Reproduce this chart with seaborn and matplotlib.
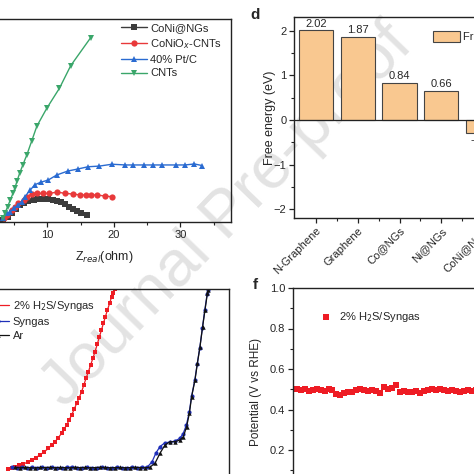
import numpy as np
import pandas as pd
import seaborn as sns
import matplotlib.pyplot as plt
from matplotlib.patches import Patch
from matplotlib.ticker import MultipleLocator

# ---- panel c: Nyquist plots (Z_real, -Z_imag in ohm) ----
coni_x = [3.35, 4.0, 4.6, 5.3, 5.9, 6.5, 7.1, 7.9, 8.6, 9.4, 10.1, 10.8, 11.4, 12.0, 12.6, 13.3, 13.9, 14.5, 15.1, 15.9]
coni_y = [0.3, 0.8, 1.3, 1.9, 2.6, 2.9, 3.2, 3.3, 3.4, 3.4, 3.4, 3.3, 3.2, 3.0, 2.7, 2.3, 2.0, 1.7, 1.4, 1.05]
conio_x = [3.4, 3.9, 4.6, 5.1, 5.6, 6.4, 6.9, 7.6, 8.4, 9.3, 10.3, 11.5, 12.6, 13.9, 14.9, 15.8, 16.6, 17.5, 18.6, 19.7]
conio_y = [0.56, 1.05, 1.8, 2.3, 2.8, 3.3, 3.8, 4.2, 4.3, 4.3, 4.3, 4.5, 4.3, 4.2, 4.06, 4.06, 4.06, 4.06, 3.9, 3.8]
ptc_x = [3.3, 3.9, 4.4, 4.96, 5.6, 6.1, 6.6, 7.4, 8.1, 8.98, 10.1, 11.4, 13.1, 14.6, 16.1, 17.8, 19.7,
         21.7, 22.9, 24.5, 25.8, 27.2, 29.3, 30.7, 32.1, 33.3]
ptc_y = [0.56, 1.3, 1.55, 2.06, 2.56, 3.05, 3.8, 4.8, 5.6, 5.97, 6.3, 7.07, 7.67, 7.97, 8.3, 8.4, 8.68,
         8.57, 8.57, 8.57, 8.57, 8.57, 8.57, 8.57, 8.72, 8.47]
cnt_x = [3.3, 3.6, 4.0, 4.4, 4.8, 5.1, 5.4, 5.8, 6.3, 6.9, 7.6, 8.4, 9.9, 11.8, 13.5, 16.5]
cnt_y = [0.6, 1.3, 2.3, 3.3, 4.3, 5.1, 6.1, 7.3, 8.6, 10.1, 12.1, 14.4, 17.1, 20.1, 23.5, 27.7]

# ---- panel d: free energy ----
catalysts = ['N-Graphene', 'Graphene', 'Co@NGs', 'Ni@NGs', 'CoNi@NGs']
free_energy = [2.02, 1.87, 0.84, 0.66, -0.29]

# ---- panel e: polarization curves ----
h2s_x = [0.042, 0.058, 0.075, 0.096, 0.117, 0.138, 0.158, 0.179, 0.2, 0.221, 0.242, 0.258, 0.275, 0.292,
         0.308, 0.321, 0.333, 0.346, 0.358, 0.371, 0.383, 0.396, 0.408, 0.419, 0.43, 0.442, 0.453, 0.464,
         0.475, 0.486, 0.497, 0.507, 0.517, 0.527, 0.537, 0.548, 0.558, 0.567, 0.575]
h2s_y = [0.04, 0.11, 0.18, 0.25, 0.33, 0.44, 0.56, 0.69, 0.83, 1.01, 1.2, 1.38, 1.57, 1.8, 2.04, 2.27,
         2.5, 2.77, 3.06, 3.37, 3.7, 4.02, 4.35, 4.72, 5.09, 5.46, 5.83, 6.2, 6.57, 6.98, 7.4, 7.77,
         8.15, 8.52, 8.89, 9.26, 9.63, 9.85, 10.06]
syn_x = [0.06, 0.085, 0.11, 0.135, 0.16, 0.185, 0.21, 0.235, 0.26, 0.285, 0.31, 0.335, 0.36, 0.385, 0.41,
         0.435, 0.46, 0.485, 0.51, 0.535, 0.56, 0.585, 0.61, 0.635, 0.66, 0.685, 0.71, 0.735, 0.76,
         0.78, 0.8, 0.823, 0.848, 0.873, 0.898, 0.915, 0.932, 0.946, 0.958, 0.974, 0.986, 0.999, 1.012,
         1.024, 1.036, 1.041]
syn_y = [0.15, 0.13, 0.16, 0.12, 0.14, 0.13, 0.15, 0.12, 0.14, 0.13, 0.12, 0.14, 0.15, 0.12, 0.13,
         0.14, 0.12, 0.13, 0.15, 0.13, 0.12, 0.14, 0.13, 0.12, 0.14, 0.13, 0.15, 0.14, 0.45,
         0.95, 1.3, 1.5, 1.55, 1.6, 1.75, 2.0, 2.5, 3.2, 4.1, 5.0, 5.9, 6.8, 7.9, 8.9, 9.8, 10.0]
ar_x = [0.075, 0.1, 0.125, 0.15, 0.175, 0.2, 0.225, 0.25, 0.275, 0.3, 0.325, 0.35, 0.375, 0.4, 0.425,
        0.45, 0.475, 0.5, 0.525, 0.55, 0.575, 0.6, 0.625, 0.65, 0.675, 0.7, 0.725, 0.75,
        0.775, 0.8, 0.825, 0.85, 0.875, 0.9, 0.917, 0.933, 0.947, 0.958, 0.975, 0.987, 1.0, 1.013,
        1.025, 1.037, 1.042]
ar_y = [0.14, 0.12, 0.15, 0.13, 0.11, 0.14, 0.13, 0.15, 0.12, 0.14, 0.13, 0.12, 0.15, 0.13, 0.14,
        0.12, 0.13, 0.15, 0.14, 0.12, 0.13, 0.14, 0.12, 0.13, 0.15, 0.13, 0.12, 0.16,
        0.37, 0.93, 1.39, 1.57, 1.57, 1.67, 1.85, 2.41, 3.15, 4.07, 5.0, 5.93, 6.85, 7.96,
        8.89, 9.82, 10.0]

# ---- panel f: stability ----
potential = [0.50, 0.495, 0.50, 0.49, 0.495, 0.50, 0.495, 0.49, 0.50, 0.495,
             0.475, 0.47, 0.48, 0.485, 0.485, 0.495, 0.50, 0.495, 0.49, 0.495, 0.49,
             0.48, 0.51, 0.50, 0.505, 0.52,
             0.485, 0.49, 0.485, 0.485, 0.49, 0.48, 0.49,
             0.495, 0.50, 0.495, 0.50, 0.495, 0.49, 0.495,
             0.49, 0.485, 0.49, 0.495, 0.49,
             0.495, 0.49, 0.50, 0.495, 0.49, 0.495, 0.49, 0.50]

sns.set_style('white')
plt.rcParams['font.family'] = ['Liberation Sans', 'DejaVu Sans']
plt.rcParams['axes.edgecolor'] = '#222222'
plt.rcParams['axes.linewidth'] = 1.0

W = 474.0
fig = plt.figure(figsize=(4.74, 4.74), dpi=100)
fig.patch.set_facecolor('white')


def box(l, t, r, b):
    return [l / W, 1 - b / W, (r - l) / W, (b - t) / W]


def ticks_out(ax, axis='both'):
    ax.tick_params(axis=axis, which='major', direction='out', length=3.5, width=0.9,
                   labelsize=8, color='#222222', pad=2)
    ax.tick_params(axis=axis, which='minor', direction='out', length=2, width=0.8, color='#222222')


# watermark behind everything
fig.text(0.48, 0.545, 'Journal Pre-proof', rotation=46, fontsize=47, color='#e3e3e3',
         ha='center', va='center', zorder=-5)

# ---- c ----
ax = fig.add_axes(box(-32.3, 19, 231, 222))
ax.patch.set_alpha(0)
series_c = [(coni_x, coni_y, 'CoNi@NGs', '#3c3c3c', 's'),
            (conio_x, conio_y, 'CoNiO$_x$-CNTs', '#e8393a', 'o'),
            (ptc_x, ptc_y, '40% Pt/C', '#2a6bd1', '^'),
            (cnt_x, cnt_y, 'CNTs', '#3aa66a', 'v')]
for xs, ys, lab, col, mk in series_c:
    sns.lineplot(x=xs, y=ys, ax=ax, color=col, marker=mk, markersize=4.5, markeredgewidth=0,
                 lw=1.0, sort=False, estimator=None, label=lab)
ax.set_xlim(-2, 37.6)
ax.set_ylim(0, 30.5)
ax.xaxis.set_major_locator(MultipleLocator(10))
ax.xaxis.set_minor_locator(MultipleLocator(5))
ticks_out(ax, 'x')
ax.tick_params(axis='x', which='both', bottom=True, top=False)
ax.set_yticks([])
ax.set_xlabel('Z$_{real}$(ohm)', fontsize=9)
ax.xaxis.set_label_coords(0.521, -0.172)
ax.xaxis.label.set_va('center')
ax.legend(loc='upper left', bbox_to_anchor=(121 / W, 1 - 23 / W), bbox_transform=fig.transFigure,
          frameon=False, fontsize=8, borderpad=0, borderaxespad=0, handlelength=2.3,
          handletextpad=0.3, labelspacing=0.35)

# ---- d ----
ax = fig.add_axes(box(294, 17, 508, 218))
ax.patch.set_alpha(0)
sns.barplot(x=catalysts, y=free_energy, ax=ax, color='#f9c890', edgecolor='#444444',
            linewidth=0.8, width=0.82, saturation=1)
ax.axhline(0, color='#222222', lw=0.9)
for i, v in enumerate(free_energy):
    if v >= 0:
        ax.text(i, v + 0.03, f'{v:.2f}', ha='center', va='bottom', fontsize=8)
    else:
        ax.text(i, v - 0.05, f'{v:.2f}', ha='center', va='top', fontsize=8)
ax.set_xlim(-0.53, 4.6)
ax.set_ylim(-2.2, 2.31)
ax.yaxis.set_major_locator(MultipleLocator(1))
ax.yaxis.set_minor_locator(MultipleLocator(0.5))
ax.set_xticks(range(len(catalysts)))
ax.set_xticks(np.arange(len(catalysts)) + 0.5, minor=True)
ticks_out(ax)
ax.tick_params(axis='both', which='both', bottom=True, left=True)
ax.set_xticklabels(catalysts, rotation=45, ha='right', rotation_mode='anchor', fontsize=8)
ax.set_ylabel('Free energy (eV)', fontsize=9)
ax.yaxis.set_label_coords(-0.112, 0.4975)
ax.yaxis.label.set_va('center')
ax.legend(handles=[Patch(facecolor='#f9c890', edgecolor='#444444', linewidth=0.8, label='Free energy')],
          loc='upper left', bbox_to_anchor=(433 / W, 1 - 31 / W), bbox_transform=fig.transFigure,
          frameon=False, fontsize=8, borderpad=0, borderaxespad=0, handlelength=2.4,
          handleheight=1.2, handletextpad=0.3)
fig.text(255 / W, 1 - 15 / W, 'd', fontsize=11, fontweight='bold', ha='center', va='center')

# ---- e ----
ax = fig.add_axes(box(-10, 289, 229, 475))
ax.patch.set_alpha(0)
sns.lineplot(x=h2s_x, y=h2s_y, ax=ax, color='#ee1c24', marker='s', markersize=3.2, markeredgewidth=0,
             lw=0.9, sort=False, estimator=None, label='2% H$_2$S/Syngas')
sns.lineplot(x=syn_x, y=syn_y, ax=ax, color='#1f2fb8', marker='o', markersize=3, markeredgewidth=0,
             lw=0.9, sort=False, estimator=None, label='Syngas')
sns.lineplot(x=ar_x, y=ar_y, ax=ax, color='#111111', marker='^', markersize=3.2, markeredgewidth=0,
             lw=0.9, sort=False, estimator=None, label='Ar')
ax.set_xlim(-0.05, 1.145)
ax.set_ylim(-0.28, 10.06)
ax.set_xticks([])
ax.set_yticks([])
ax.set_xlabel('')
ax.legend(loc='upper left', bbox_to_anchor=(-13 / W, 1 - 299 / W), bbox_transform=fig.transFigure,
          frameon=False, fontsize=8, borderpad=0, borderaxespad=0, handlelength=2.0,
          handletextpad=0.3, labelspacing=0.35)

# ---- f ----
ax = fig.add_axes(box(293, 288, 520, 490.5))
ax.patch.set_alpha(0)
sns.scatterplot(x=np.arange(len(potential)), y=potential, ax=ax, color='#ee1c24', marker='s',
                s=18, linewidth=0, label='2% H$_2$S/Syngas')
ax.set_xlim(-0.9, 56)
ax.set_ylim(0, 1.0)
ax.yaxis.set_major_locator(MultipleLocator(0.2))
ax.yaxis.set_minor_locator(MultipleLocator(0.1))
ax.yaxis.set_major_formatter(plt.FormatStrFormatter('%.1f'))
ax.set_xticks([])
ticks_out(ax, 'y')
ax.tick_params(axis='y', which='both', left=True)
ax.set_ylabel('Potential (V vs RHE)', fontsize=8.5)
ax.yaxis.set_label_coords(-0.163, 0.486)
ax.yaxis.label.set_va('center')
ax.legend(loc='center left', bbox_to_anchor=(320 / W, 1 - 317 / W), bbox_transform=fig.transFigure,
          frameon=False, fontsize=8, borderpad=0, borderaxespad=0, handlelength=1.0,
          handletextpad=0.75, markerscale=0.9)
fig.text(255 / W, 1 - 285 / W, 'f', fontsize=11, fontweight='bold', ha='center', va='center')

fig.savefig('out.png', dpi=100)
